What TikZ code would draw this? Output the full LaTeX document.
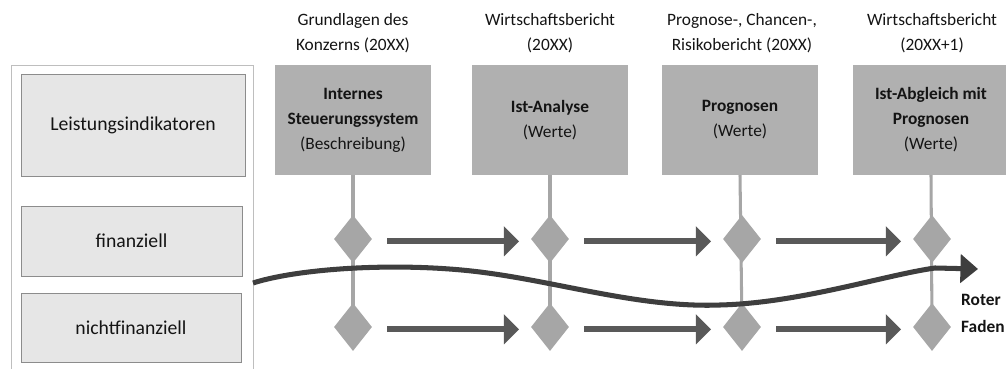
\documentclass[tikz,border=0pt]{standalone}
\usepackage{fontspec}
\setmainfont{Carlito}
\usetikzlibrary{shapes.geometric,arrows.meta,backgrounds}
\definecolor{boxgray}{RGB}{176,176,176}
\definecolor{diagray}{RGB}{166,166,166}
\definecolor{lightfill}{RGB}{230,230,230}
\definecolor{lightedge}{RGB}{140,140,140}
\definecolor{framegray}{RGB}{190,190,190}
\definecolor{arrowgray}{RGB}{89,89,89}
\definecolor{threadgray}{RGB}{62,62,62}
\definecolor{textgray}{RGB}{20,20,20}
\tikzset{
  txt/.style={font=\fontsize{14.8}{21.3}\selectfont, text=textgray, align=center},
  header/.style={txt, inner sep=0pt},
  topbox/.style={txt, fill=boxgray, minimum width=4.68cm, minimum height=3.3cm, inner sep=0pt},
  sidebox/.style={font=\fontsize{16.8}{20}\selectfont, text=textgray, fill=lightfill, draw=lightedge, line width=0.8pt, inner sep=0pt},
  marker/.style={diamond, fill=diagray, minimum width=1.14cm, minimum height=1.44cm, inner sep=0pt},
  vline/.style={draw=diagray, line width=2.6pt},
  flow/.style={draw=arrowgray, line width=5pt, -{Triangle[width=25pt,length=13pt]}, shorten <=13pt, shorten >=10pt},
  thread/.style={draw=threadgray, line width=4.3pt, -{Triangle[width=24pt,length=15pt]}}
}
\begin{document}
\begin{tikzpicture}[x=0.03cm,y=-0.03cm]
\useasboundingbox (0,0) rectangle (1006,369);

% left frame with indicator categories
\draw[framegray, line width=0.8pt] (11,369) -- (11,65) -- (253,65) -- (253,369);
\node[sidebox, minimum width=6.72cm, minimum height=3.06cm] (li) at (133,125) {Leistungsindikatoren};
\node[sidebox, minimum width=6.63cm, minimum height=2.1cm] (fin) at (131.5,241) {finanziell};
\node[sidebox, minimum width=6.6cm, minimum height=2.07cm] (nfin) at (131,327.5) {nichtfinanziell};

% report sections
\node[header] (h1) at (353,33) {Grundlagen des\\Konzerns (20XX)};
\node[header] (h2) at (550,33) {Wirtschaftsbericht\\(20XX)};
\node[header] (h3) at (742,33) {Prognose-, Chancen-,\\Risikobericht (20XX)};
\node[header] (h4) at (932,33) {Wirtschaftsbericht\\(20XX+1)};

\node[topbox] (b1) at (353,120) {\textbf{Internes}\\\textbf{Steuerungssystem}\\(Beschreibung)};
\node[topbox] (b2) at (550,120) {\textbf{Ist-Analyse}\\(Werte)};
\node[topbox] (b3) at (740,120) {\textbf{Prognosen}\\(Werte)};
\node[topbox] (b4) at (931,120) {\textbf{Ist-Abgleich mit}\\\textbf{Prognosen}\\(Werte)};

% diamond markers per column, joined by a vertical stem
\foreach \i/\x in {1/353,2/550,3/742,4/932}{
  \node[marker] (t\i) at (\x,239) {};
  \node[marker] (u\i) at (\x,327) {};
}
\begin{pgfonlayer}{background}
\foreach \i in {1,2,3,4}{
  \draw[vline] (b\i.south) -- (u\i.center);
}
\end{pgfonlayer}

% flow arrows between columns
\foreach \a/\b in {1/2,2/3,3/4}{
  \draw[flow] ([yshift=-2pt]t\a.east) -- ([yshift=-2pt]t\b.west);
  \draw[flow] ([yshift=-2pt]u\a.east) -- ([yshift=-2pt]u\b.west);
}

% the common thread
\coordinate (rs) at (253,283);
\coordinate (re) at (978,269);
\draw[thread] (rs) .. controls (300,268) and (400,262) .. (480,272)
  .. controls (560,282) and (640,308) .. (720,305)
  .. controls (800,303) and (885,275) .. (935,268) -- (re);
\node[txt, font=\fontsize{14.8}{23}\selectfont\bfseries, align=left, anchor=west, inner sep=0pt] (rf) at (961,313) {Roter\\Faden};
\end{tikzpicture}
\end{document}
